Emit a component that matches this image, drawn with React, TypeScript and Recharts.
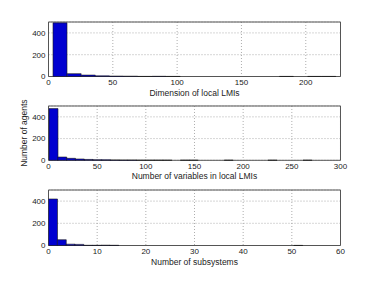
import React from 'react';
import { BarChart, Bar, XAxis, YAxis, CartesianGrid, ReferenceArea } from 'recharts';

// Panel 1: Dimension of local LMIs (bin centers, counts)
const dimCenters = [9, 20, 31, 42, 53, 64, 75, 86, 97, 108, 119, 130, 141, 152, 163, 174, 185, 196, 207, 218];
const dimCounts = [492, 26, 13, 6, 4, 3, 1, 2, 1, 0, 0, 0, 0, 0, 0, 0, 1, 0, 1, 1];
const dimTicks = [0, 50, 100, 150, 200];

// Panel 2: Number of variables in local LMIs
const varCenters = [5, 14, 23, 32, 41, 50, 59, 68, 77, 86, 95, 104, 113, 122, 131, 140, 149, 158, 167, 176, 185, 194, 203, 212, 221, 230, 239, 248, 257, 266];
const varCounts = [476, 30, 18, 12, 8, 5, 4, 3, 2, 2, 1, 1, 1, 1, 0, 1, 1, 0, 0, 0, 1, 0, 0, 0, 0, 1, 0, 0, 0, 1];
const varTicks = [0, 50, 100, 150, 200, 250, 300];

// Panel 3: Number of subsystems
const subCenters = [0.9, 2.7, 4.5, 6.3, 8.1, 9.9, 11.7, 13.5, 15.3, 17.1, 18.9, 20.7, 22.5, 24.3, 26.1, 27.9, 29.7, 31.5, 33.3, 35.1, 36.9, 38.7, 40.5, 42.3, 44.1, 45.9, 47.7, 49.5, 51.3, 53.1];
const subCounts = [419, 52, 12, 10, 2, 2, 3, 2, 0, 0, 0, 0, 0, 0, 0, 0, 0, 0, 0, 0, 0, 0, 0, 0, 0, 0, 0, 0, 1, 0];
const subTicks = [0, 10, 20, 30, 40, 50, 60];

const yTicks = [0, 200, 400];

const FONT = 'Liberation Sans, Arial, sans-serif';
const TICK_STYLE = { fontSize: 8, fill: '#222', fontFamily: FONT };
const FRAME = '#555';

type PanelProps = {
  top: number;
  plotHeight: number;
  centers: number[];
  counts: number[];
  xMax: number;
  xTicks: number[];
  xLabel: string;
  yLabel?: string;
};

function Panel({ top, plotHeight, centers, counts, xMax, xTicks, xLabel, yLabel }: PanelProps) {
  const data = centers.map((c, i) => ({ x: c, n: counts[i] }));
  const marginTop = 20;
  const xAxisH = 24;
  const height = marginTop + plotHeight + xAxisH;
  return (
    <div style={{ position: 'absolute', left: 0, top, width: 376, height }}>
      <BarChart
        width={376}
        height={height}
        data={data}
        margin={{ top: marginTop, right: 35.5, left: 0, bottom: 0 }}
        barCategoryGap={0}
        barGap={0}
      >
        <CartesianGrid stroke="#999" strokeDasharray="1 2" strokeWidth={0.8} />
        <XAxis
          dataKey="x"
          type="number"
          domain={[0, xMax]}
          ticks={xTicks}
          allowDataOverflow
          interval={0}
          tickLine={false}
          tickSize={0}
          tickMargin={3}
          height={xAxisH}
          axisLine={false}
          tick={TICK_STYLE}
          label={{ value: xLabel, position: 'insideBottom', offset: 5, style: { fontSize: 8.5, fill: '#222', fontFamily: FONT } }}
        />
        <YAxis
          type="number"
          domain={[0, 500]}
          ticks={yTicks}
          interval={0}
          tickLine={false}
          tickSize={0}
          tickMargin={3}
          width={48.5}
          axisLine={false}
          tick={TICK_STYLE}
          label={
            yLabel
              ? { value: yLabel, angle: -90, position: 'insideLeft', offset: 24, style: { textAnchor: 'middle', fontSize: 8.5, fill: '#222', fontFamily: FONT } }
              : undefined
          }
        />
        <Bar dataKey="n" fill="#0000d0" stroke="#1a1a1a" strokeWidth={0.6} isAnimationActive={false} />
        <ReferenceArea x1={0} x2={xMax} y1={0} y2={500} fill="none" stroke={FRAME} strokeWidth={1} ifOverflow="visible" />
      </BarChart>
    </div>
  );
}

export default function App() {
  return (
    <div style={{ position: 'absolute', left: 0, top: 0, width: 376, height: 283, background: '#fff' }}>
      <Panel top={1.5} plotHeight={54.5} centers={dimCenters} counts={dimCounts} xMax={227} xTicks={dimTicks} xLabel="Dimension of local LMIs" />
      <Panel top={85.7} plotHeight={54.3} centers={varCenters} counts={varCounts} xMax={300} xTicks={varTicks} xLabel="Number of variables in local LMIs" yLabel="Number of agents" />
      <Panel top={170} plotHeight={55.5} centers={subCenters} counts={subCounts} xMax={60} xTicks={subTicks} xLabel="Number of subsystems" />
    </div>
  );
}
